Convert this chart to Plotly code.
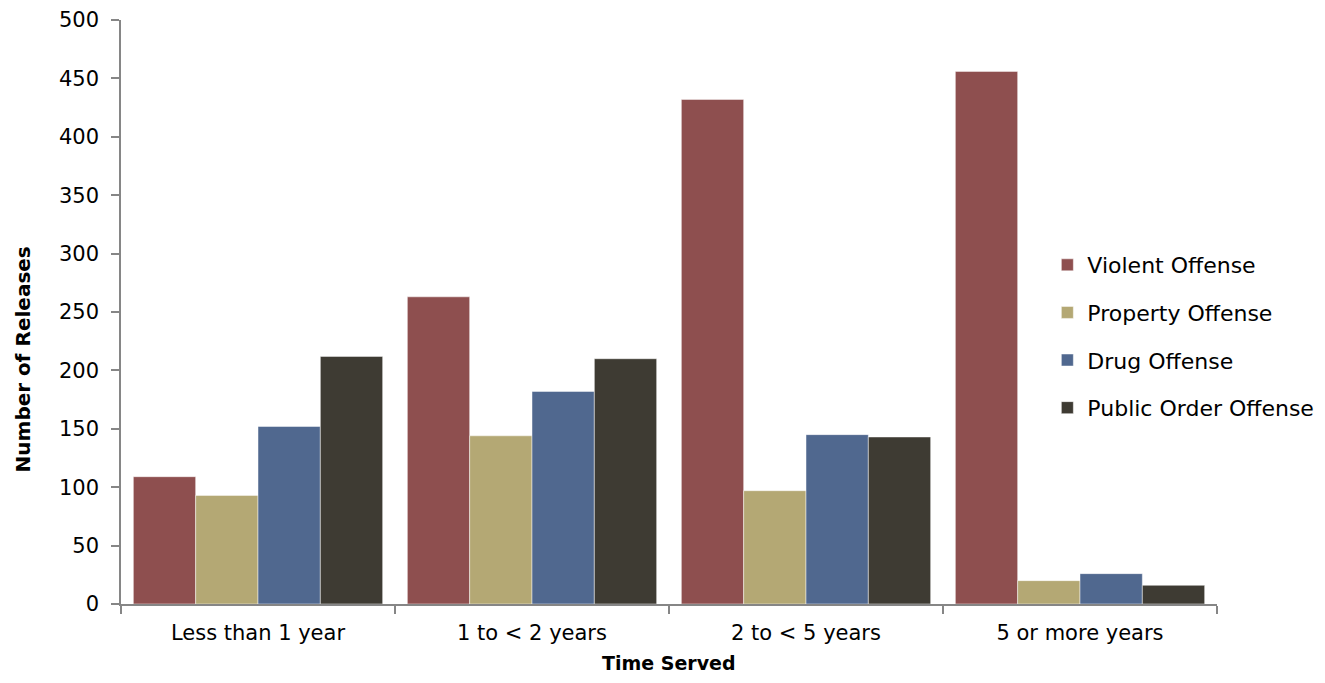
import plotly.graph_objects as go

categories = ["Less than 1 year", "1 to < 2 years", "2 to < 5 years", "5 or more years"]
series_names = ["Violent Offense", "Property Offense", "Drug Offense", "Public Order Offense"]
violent = [109, 263, 432, 456]
property_ = [93, 144, 97, 20]
drug = [152, 182, 145, 26]
public_order = [212, 210, 143, 16]
colors = ["#8E4F4F", "#B4A874", "#50688F", "#3E3B33"]
y_ticks = [0, 50, 100, 150, 200, 250, 300, 350, 400, 450, 500]
x_title = "Time Served"
y_title = "Number of Releases"

FONT = "DejaVu Sans"
W, H = 1309, 667
ML, MR, MT, MB = 113, 100, 12, 71
plot_w = W - ML - MR
plot_h = H - MT - MB

fig = go.Figure()
for i, (name, vals) in enumerate(zip(series_names, [violent, property_, drug, public_order])):
    fig.add_trace(go.Bar(
        x=categories, y=vals, name=name, legendgroup=name,
        marker=dict(color=colors[i], line=dict(color="rgba(255,255,255,0.6)", width=0.8)),
    ))

# page body adds an 8px margin, so the figure is drawn 16px smaller with offsets reduced
fig.update_layout(
    width=W, height=H,
    margin=dict(l=ML, r=MR, t=MT, b=MB, autoexpand=False),
    barmode="group", bargap=0.09, bargroupgap=0,
    plot_bgcolor="white", paper_bgcolor="white",
    font=dict(family=FONT, size=21, color="#000000"),
    legend=dict(
        xref="container", x=0.794, xanchor="left", yref="paper", y=0.458, yanchor="middle",
        font=dict(family=FONT, size=22), traceorder="grouped", tracegroupgap=16,
        bgcolor="rgba(0,0,0,0)",
    ),
    xaxis=dict(
        showline=True, linecolor="#868686", linewidth=1.5,
        ticks="outside", tickson="boundaries", ticklen=8, tickcolor="#868686", tickwidth=1.5,
        ticklabelstandoff=9, automargin=False,
        showgrid=False,
    ),
    yaxis=dict(
        range=[0, 500], tickvals=y_ticks,
        showline=True, linecolor="#868686", linewidth=1.5,
        ticks="outside", ticklen=8, tickcolor="#868686", tickwidth=1.5,
        ticklabelstandoff=8, automargin=False, ticklabeloverflow="allow",
        showgrid=False, zeroline=False,
    ),
    annotations=[
        dict(text=f"<b>{x_title}</b>", xref="paper", yref="paper", x=0.5, y=-MB / plot_h,
             xanchor="center", yanchor="bottom", showarrow=False, borderpad=0,
             font=dict(family=FONT, size=19, color="#000000")),
        dict(text=f"<b>{y_title}</b>", xref="paper", yref="paper", x=-(ML - 1) / plot_w, y=0.4188,
             xanchor="left", yanchor="middle", showarrow=False, textangle=-90,
             font=dict(family=FONT, size=20, color="#000000")),
    ],
)

fig.write_html("out.html")
